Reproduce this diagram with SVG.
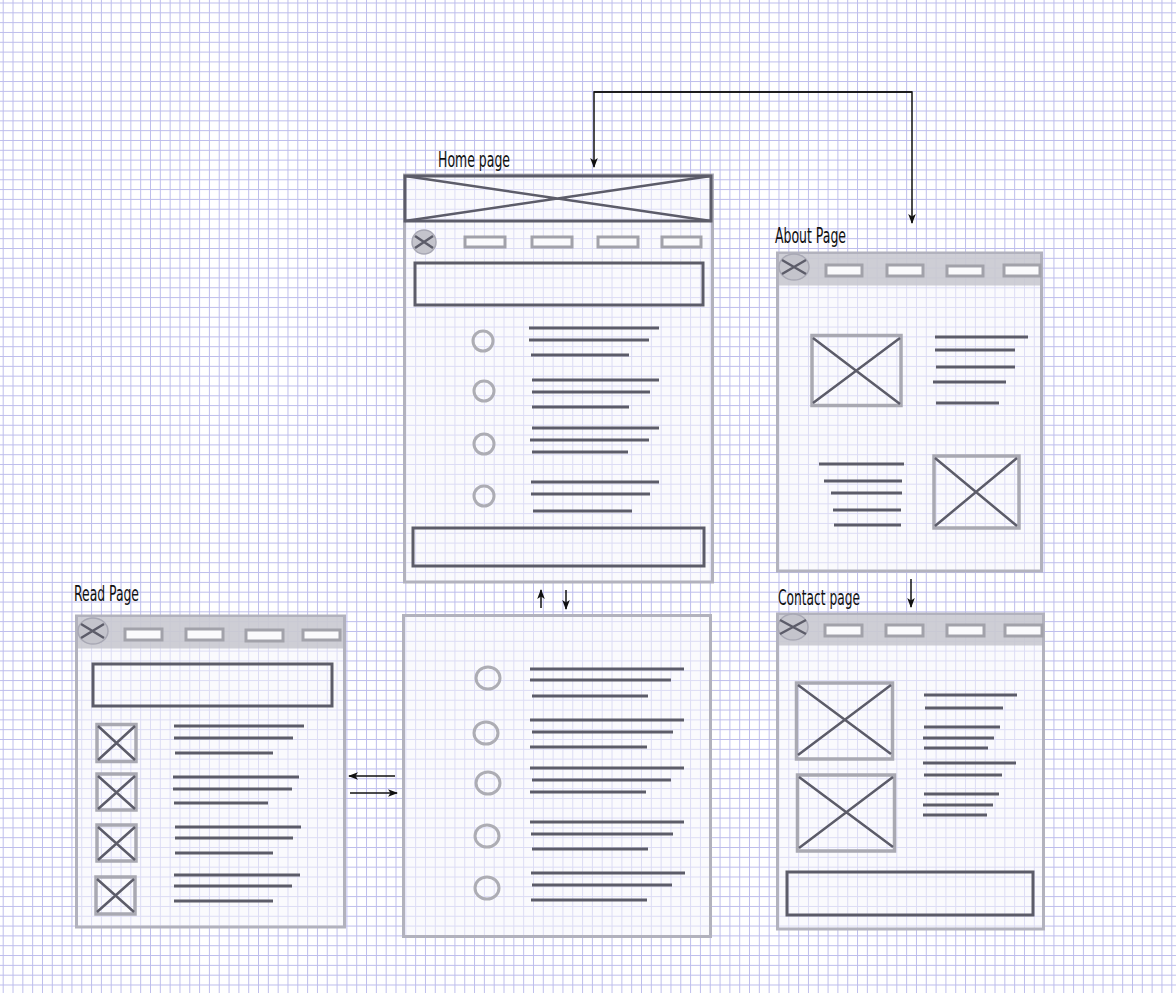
<svg xmlns="http://www.w3.org/2000/svg" width="1176" height="993" viewBox="0 0 1176 993">
  <defs>
    <pattern id="grid" width="9.82" height="9.82" patternUnits="userSpaceOnUse" patternTransform="translate(2.7 2.5)">
      <path d="M0 0.5H9.82M0.5 0V9.82" fill="none" stroke="#bdbdec" stroke-width="1" shape-rendering="crispEdges"/>
    </pattern>
    <marker id="arr" viewBox="0 0 10 10" refX="9" refY="5" markerWidth="10" markerHeight="10" markerUnits="userSpaceOnUse" orient="auto">
      <path d="M0 1.2L10 5L0 8.8L2.5 5Z" fill="#111"/>
    </marker>
  </defs>
  <style>
    .frame{fill:#f6f6fb;fill-opacity:.55;stroke:#b2b2bd;stroke-width:3}
    .dark{fill:none;stroke:#5c5c69;stroke-width:3}
    .box{fill:none;stroke:#a9a9b2;stroke-width:3.5}
    .x{stroke:#5c5c69;stroke-width:2.5;fill:none}
    .txt{stroke:#5c5c69;stroke-width:3}
    .circ{fill:none;stroke:#adadb4;stroke-width:3}
    .btn{fill:#fafafc;stroke:#a2a2aa;stroke-width:3}
    .bar{fill:#c6c6ce;fill-opacity:.85}
    .logo{fill:#c4c4cc;stroke:#a8a8b4;stroke-width:1.5}
    .lbl{font-family:"DejaVu Sans Condensed","DejaVu Sans",sans-serif;font-size:22px;fill:#111}
    .con{fill:none;stroke:#111;stroke-width:1.5}
  </style>
  <rect width="1176" height="993" fill="#ffffff"/>
  <rect width="1176" height="993" fill="url(#grid)"/>

  <!-- Home page -->
  <g id="home">
    <text class="lbl" x="438" y="167" textLength="72" lengthAdjust="spacingAndGlyphs">Home page</text>
    <rect class="frame" x="404.5" y="175" width="308" height="407"/>
    <rect class="dark" x="405" y="176" width="306" height="45"/>
    <path class="x" d="M405 176L711 221M405 221L711 176" stroke-width="3"/>
    <circle class="logo" cx="424" cy="242" r="12"/>
    <path class="x" d="M415 236L433 248M415 248L433 236" stroke-width="2"/>
    <rect class="btn" x="465" y="237" width="40" height="10"/>
    <rect class="btn" x="532" y="237" width="40" height="10"/>
    <rect class="btn" x="598" y="237" width="40" height="10"/>
    <rect class="btn" x="662" y="237" width="39" height="10"/>
    <rect class="dark" x="415" y="263" width="288" height="42"/>
    <circle class="circ" cx="483" cy="341" r="10"/>
    <circle class="circ" cx="484" cy="391" r="10"/>
    <circle class="circ" cx="484" cy="444" r="10"/>
    <circle class="circ" cx="484" cy="496" r="10"/>
    <path class="txt" d="M529 328H659M529 340H649M531 355H629M532 380H659M532 392H650M532 407H629M532 428H659M530 440H649M532 452H628M531 482H659M531 494H650M533 511H632"/>
    <rect class="dark" x="413" y="528" width="291" height="38"/>
  </g>

  <!-- Home page, lower part -->
  <g id="home-content">
    <rect class="frame" x="403.5" y="615.5" width="307" height="321"/>
    <ellipse class="circ" cx="488" cy="678" rx="12" ry="11"/>
    <ellipse class="circ" cx="486" cy="733" rx="12" ry="11"/>
    <ellipse class="circ" cx="488" cy="783" rx="12" ry="11"/>
    <ellipse class="circ" cx="487" cy="836" rx="12" ry="11"/>
    <ellipse class="circ" cx="487" cy="888" rx="12" ry="11"/>
    <path class="txt" d="M530 669H684M530 680H671M532 696H648M530 720H684M532 732H673M530 747H647M530 768H684M532 780H671M530 792H646M530 822H684M531 834H673M532 849H648M531 873H685M532 885H672M531 900H647"/>
  </g>

  <!-- Read page -->
  <g id="read">
    <text class="lbl" x="74" y="601" textLength="65" lengthAdjust="spacingAndGlyphs">Read Page</text>
    <rect class="frame" x="76.5" y="616" width="268" height="311"/>
    <rect class="bar" x="78" y="617.5" width="265" height="31"/>
    <ellipse class="logo" cx="93" cy="631" rx="15" ry="13"/>
    <path class="x" d="M81 624L104 638M81 638L104 624" stroke-width="2"/>
    <rect class="btn" x="125" y="629" width="37" height="11"/>
    <rect class="btn" x="186" y="629" width="37" height="11"/>
    <rect class="btn" x="246" y="630" width="37" height="11"/>
    <rect class="btn" x="303" y="630" width="37" height="10"/>
    <rect class="dark" x="93" y="664" width="239" height="42"/>
    <rect class="box" x="97" y="724.5" width="39" height="37"/>
    <path class="x" d="M98 726L135 760M98 760L135 726"/>
    <rect class="box" x="97" y="774" width="39" height="36"/>
    <path class="x" d="M98 776L135 809M98 809L135 776"/>
    <rect class="box" x="97" y="825" width="39" height="36"/>
    <path class="x" d="M98 827L135 860M98 860L135 827"/>
    <rect class="box" x="96" y="877" width="39" height="37"/>
    <path class="x" d="M97 879L134 912M97 912L134 879"/>
    <path class="txt" d="M174 726H304M174 738H293M175 753H273M173 777H299M173 789H292M174 803H268M175 827H301M175 838H293M175 853H273M174 875H300M174 886H292M174 901H273"/>
  </g>

  <!-- About page -->
  <g id="about">
    <text class="lbl" x="775" y="243" textLength="71" lengthAdjust="spacingAndGlyphs">About Page</text>
    <rect class="frame" x="777.5" y="253" width="264" height="318"/>
    <rect class="bar" x="779" y="254.5" width="261" height="31"/>
    <ellipse class="logo" cx="794" cy="267" rx="15" ry="13"/>
    <path class="x" d="M782 260L806 274M782 274L806 260" stroke-width="2"/>
    <rect class="btn" x="826" y="265" width="36" height="11"/>
    <rect class="btn" x="887" y="265" width="36" height="11"/>
    <rect class="btn" x="947" y="266" width="36" height="10"/>
    <rect class="btn" x="1004" y="265" width="36" height="11"/>
    <rect class="box" x="812" y="335.5" width="89" height="70"/>
    <path class="x" d="M813 338L900 404M813 403L900 338"/>
    <path class="txt" d="M935 337H1028M935 350H1015M936 367H1015M933 382H1006M936 403H999"/>
    <path class="txt" d="M819 464H904M824 481H902M831 493H902M833 510H901M834 525H901"/>
    <rect class="box" x="934" y="456" width="85" height="72"/>
    <path class="x" d="M935 458L1017 526M935 526L1017 458"/>
  </g>

  <!-- Contact page -->
  <g id="contact">
    <text class="lbl" x="778" y="605" textLength="82" lengthAdjust="spacingAndGlyphs">Contact page</text>
    <rect class="frame" x="777.5" y="614" width="266" height="315"/>
    <rect class="bar" x="779" y="615.5" width="263" height="30"/>
    <ellipse class="logo" cx="793" cy="627" rx="15" ry="13"/>
    <path class="x" d="M780 620L806 634M780 634L806 620" stroke-width="2"/>
    <rect class="btn" x="825" y="625" width="37" height="11"/>
    <rect class="btn" x="886" y="625" width="37" height="11"/>
    <rect class="btn" x="947" y="625" width="37" height="11"/>
    <rect class="btn" x="1005" y="625" width="37" height="11"/>
    <rect class="box" x="796.5" y="683" width="96" height="76"/>
    <path class="x" d="M798 685L891 754M798 755L891 685"/>
    <rect class="box" x="797.5" y="775" width="97" height="76"/>
    <path class="x" d="M799 777L893 847M799 848L893 777"/>
    <path class="txt" d="M924 695H1017M925 708H1003M924 727H1000M923 738H994M924 748H988M923 763H1016M924 775H1002M924 794H999M923 805H993M923 815H987"/>
    <rect class="dark" x="787" y="872" width="246" height="43"/>
  </g>

  <!-- Connectors -->
  <g id="connectors">
    <path class="con" d="M912 92H594V167" marker-end="url(#arr)"/>
    <path class="con" d="M594 92H912V223" marker-end="url(#arr)"/>
    <path class="con" d="M541 608V590" marker-end="url(#arr)"/>
    <path class="con" d="M566 590V609" marker-end="url(#arr)"/>
    <path class="con" d="M395 776H349" marker-end="url(#arr)"/>
    <path class="con" d="M350 793H397" marker-end="url(#arr)"/>
    <path class="con" d="M911 579V607" marker-end="url(#arr)"/>
  </g>
</svg>
